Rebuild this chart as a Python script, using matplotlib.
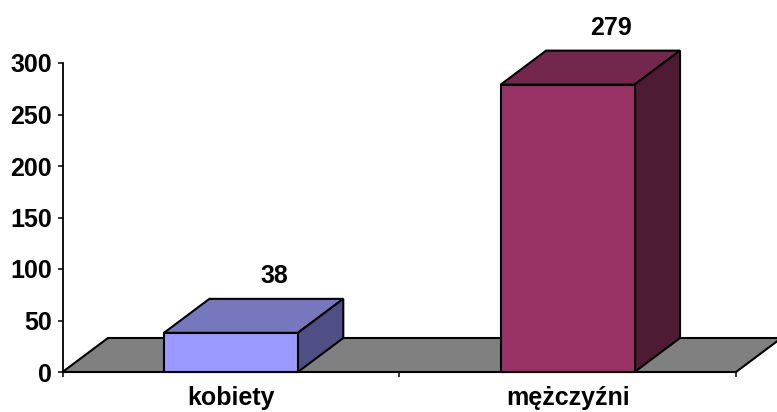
import matplotlib
matplotlib.use("Agg")
import matplotlib.pyplot as plt
from matplotlib.patches import Polygon

categories = ["kobiety", "mężczyźni"]
values = [38, 279]
front_colors = ["#9999FF", "#993366"]
top_colors = ["#7777BE", "#73274D"]
side_colors = ["#4F4F85", "#4D1B33"]
y_ticks = [0, 50, 100, 150, 200, 250, 300]

W, H = 777, 412
FS = 18
plt.rcParams["font.family"] = ["Liberation Sans", "DejaVu Sans"]
plt.rcParams["font.weight"] = "bold"
fig = plt.figure(figsize=(W / 100, H / 100), dpi=100)
ax = fig.add_axes([62.5 / W, 1 - 372 / H, (736 - 62.5) / W, (372 - 63) / H])
ax.set_xlim(-0.5, 1.5)
ax.set_ylim(0, 300)

dx = 45.5 / 337
dy = 34 / 1.03
bw = 134 / 337
EC = "black"
LW = 1.5

# floor
ax.add_patch(Polygon([(-0.5, 0), (1.5, 0), (1.5 + dx, dy), (-0.5 + dx, dy)],
                     closed=True, fc="#808080", ec=EC, lw=LW, clip_on=False, zorder=1))

for i, v in enumerate(values):
    l, r = i - bw / 2, i + bw / 2
    ax.add_patch(Polygon([(l, v), (r, v), (r + dx, v + dy), (l + dx, v + dy)],
                         closed=True, fc=top_colors[i], ec=EC, lw=LW, clip_on=False, zorder=3))
    ax.add_patch(Polygon([(r, 0), (r + dx, dy), (r + dx, v + dy), (r, v)],
                         closed=True, fc=side_colors[i], ec=EC, lw=LW, clip_on=False, zorder=3))
    ax.add_patch(Polygon([(l, 0), (r, 0), (r, v), (l, v)],
                         closed=True, fc=front_colors[i], ec=EC, lw=LW, clip_on=False, zorder=4))
    ax.text(i + 0.128, v + dy + 22, str(v), ha="center", va="center",
            fontsize=FS, fontweight="bold", clip_on=False, zorder=5)

for s in ("top", "right"):
    ax.spines[s].set_visible(False)
for s in ("left", "bottom"):
    ax.spines[s].set_linewidth(1.3)
    ax.spines[s].set_zorder(2)

ax.set_yticks(y_ticks)
ax.set_yticklabels([str(t) for t in y_ticks], fontsize=FS, fontweight="bold")
ax.tick_params(axis="y", length=3.6, width=1.1, pad=4)
ax.set_xticks([-0.5, 0.5, 1.5])
ax.set_xticklabels([])
ax.tick_params(axis="x", which="major", length=3.6, width=1.1)
ax.set_xticks([0, 1], minor=True)
ax.set_xticklabels(categories, minor=True, fontsize=FS, fontweight="bold")
ax.tick_params(axis="x", which="minor", length=0, pad=10)
ax.patch.set_alpha(0)

fig.savefig("out.png", dpi=100)
